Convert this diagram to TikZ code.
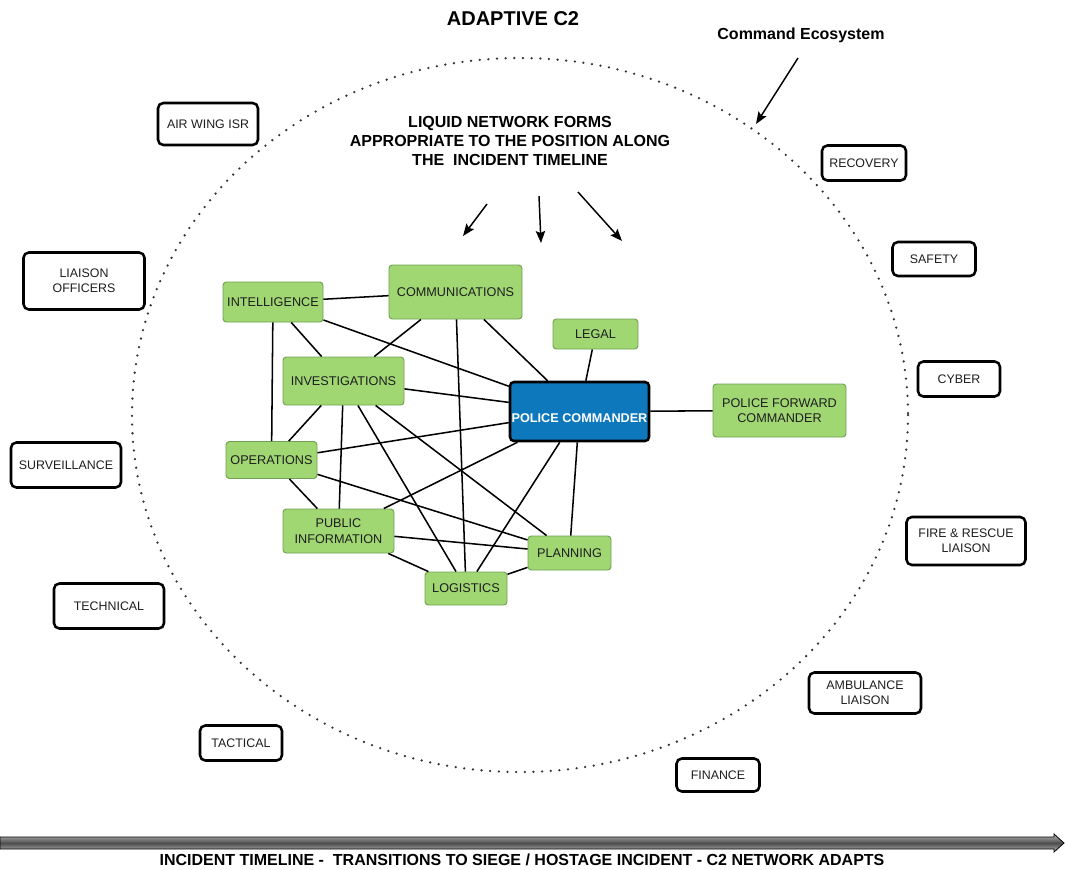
\documentclass[tikz,border=0pt]{standalone}
\usepackage{fontspec}
\setmainfont{Liberation Sans}
\usetikzlibrary{arrows.meta}
\definecolor{netgreen}{RGB}{160,215,115}
\definecolor{netgreenline}{RGB}{112,160,82}
\definecolor{cmdblue}{RGB}{14,120,188}
\definecolor{boxtext}{RGB}{30,30,30}
\begin{document}
\begin{tikzpicture}[x=0.75pt,y=-0.75pt,
  sz/.style 2 args={minimum width=#1*0.75pt, minimum height=#2*0.75pt},
  agency/.style={draw=black, line width=1.9pt, rounded corners=4pt, fill=white,
    align=center, inner sep=0pt, text=boxtext, font=\fontsize{9.3}{11.5}\selectfont},
  cell/.style={draw=netgreenline, line width=0.7pt, rounded corners=2.5pt, fill=netgreen,
    align=center, inner sep=0pt, text=boxtext, font=\fontsize{9.5}{11.8}\selectfont},
  lead/.style={line width=1.9pt, draw=black, rounded corners=3pt, fill=cmdblue,
    align=center, inner sep=0pt, text=white, font=\bfseries\fontsize{9.5}{11.5}\selectfont},
  link/.style={draw=black, line width=1.15pt},
  pointer/.style={draw=black, line width=1.1pt, -{Stealth[length=9pt,width=7pt,inset=1.5pt]}},
  heading/.style 2 args={font=\bfseries\fontsize{#1}{#2}\selectfont, align=center, inner sep=0pt},
  ecosystem/.style={draw=black!80, line width=1.9pt, line cap=round, dash pattern=on 0pt off 6.5pt}
]
\useasboundingbox (0,0) rectangle (1065,869);

% titles
\node[heading={15}{18}] (title) at (513,19) {ADAPTIVE C2};
\node[heading={12}{14}] (ecolabel) at (801,35) {Command Ecosystem};
\node[heading={12}{14.3}] (liquid) at (510,141)
  {LIQUID NETWORK FORMS\\APPROPRIATE TO THE POSITION ALONG\\THE\ \ INCIDENT TIMELINE};

% command ecosystem boundary
\draw[ecosystem] (520,415) ellipse [x radius=388, y radius=357];

% pointer arrows
\coordinate (ecoA) at (798,58);
\coordinate (ecoB) at (756,124);
\draw[pointer] (ecoA) -- (ecoB);
\coordinate (pA1) at (487,204);
\coordinate (pA2) at (463,236);
\coordinate (pB1) at (539,196);
\coordinate (pB2) at (541,243);
\coordinate (pC1) at (578,192);
\coordinate (pC2) at (622,241);
\draw[pointer] (pA1) -- (pA2);
\draw[pointer] (pB1) -- (pB2);
\draw[pointer] (pC1) -- (pC2);

% outer agencies
\node[agency, sz={100}{42}] (airwing) at (208,124) {AIR WING ISR};
\node[agency, sz={121}{57}] (liaison) at (84,281) {LIAISON\\OFFICERS};
\node[agency, sz={110}{45}] (surveil) at (66,465) {SURVEILLANCE};
\node[agency, sz={110}{45}] (technical) at (109,606) {TECHNICAL};
\node[agency, sz={82}{35}] (tactical) at (241,743) {TACTICAL};
\node[agency, sz={83}{33}] (finance) at (718,775) {FINANCE};
\node[agency, sz={112}{41}] (ambulance) at (865,693) {AMBULANCE\\LIAISON};
\node[agency, sz={119}{48}] (fire) at (966,541) {FIRE \& RESCUE\\LIAISON};
\node[agency, sz={82}{35}] (cyber) at (959,379) {CYBER};
\node[agency, sz={83}{34}] (safety) at (934,259) {SAFETY};
\node[agency, sz={84}{35}] (recovery) at (864,163) {RECOVERY};

% liquid network cells
\node[cell, sz={100}{40}] (intel) at (273,302) {INTELLIGENCE};
\node[cell, sz={133}{54}] (comm) at (455.5,292) {COMMUNICATIONS};
\node[cell, sz={85}{30}] (legal) at (595.5,334) {LEGAL};
\node[cell, sz={121}{48}] (invest) at (343.5,381) {INVESTIGATIONS};
\node[lead, sz={139}{59}] (pc) at (579.5,411.5) {\raisebox{-8.5pt}[0pt][0pt]{POLICE COMMANDER}};
\node[cell, sz={133}{53}] (pfc) at (779.5,410.5) {POLICE FORWARD\\COMMANDER};
\node[cell, sz={91}{37}] (oper) at (271.5,460) {OPERATIONS};
\node[cell, sz={111}{44}] (pubinfo) at (338.5,531) {PUBLIC\\INFORMATION};
\node[cell, sz={83}{34}] (planning) at (569.5,553) {PLANNING};
\node[cell, sz={82}{33}] (logistics) at (466,588.5) {LOGISTICS};

% links between cells
\draw[link] (intel) -- (comm);
\draw[link] (intel) -- (pc);
\draw[link] (intel) -- (invest);
\draw[link] (intel) -- (oper);
\draw[link] (comm) -- (invest);
\draw[link] (comm) -- (logistics);
\draw[link] (comm) -- (pc);
\draw[link] (legal) -- (pc);
\draw[link] (invest) -- (pc);
\draw[link] (invest) -- (oper);
\draw[link] (invest) -- (pubinfo);
\draw[link] (invest) -- (logistics);
\draw[link] (invest) -- (planning);
\draw[link] (pc) -- (oper);
\draw[link] (pc) -- (pubinfo);
\draw[link] (pc) -- (logistics);
\draw[link] (pc) -- (planning);
\draw[link] (pc) -- (pfc);
\draw[link] (oper) -- (pubinfo);
\draw[link] (oper) -- (planning);
\draw[link] (pubinfo) -- (planning);
\draw[link] (pubinfo) -- (logistics);
\draw[link] (planning) -- (logistics);

% incident timeline
\shade[top color=gray!55, bottom color=gray!55, middle color=black!70, draw=black, line width=0.6pt]
  (0,837) -- (1054,837) -- (1054,834) -- (1064,843) -- (1054,852) -- (1054,849) -- (0,849) -- cycle;
\node[heading={12}{14}] (timeline) at (522,860)
  {INCIDENT TIMELINE -\ \ TRANSITIONS TO SIEGE / HOSTAGE INCIDENT - C2 NETWORK ADAPTS};
\end{tikzpicture}
\end{document}
